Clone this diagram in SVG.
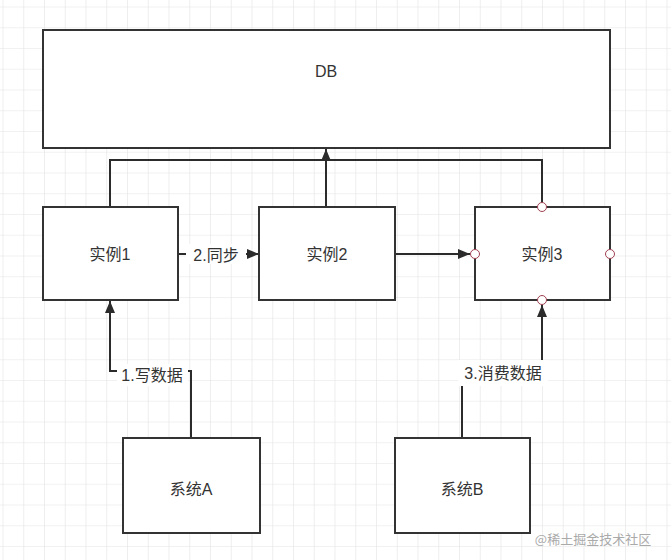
<svg xmlns="http://www.w3.org/2000/svg" width="671" height="560" viewBox="0 0 671 560">
<defs>
<pattern id="grid" x="2.5" y="6.5" width="20.75" height="20.75" patternUnits="userSpaceOnUse">
<path d="M0 0H20.75M0 0V20.75" fill="none" stroke="#e3e3e3" stroke-width="1.2"/>
</pattern>
<marker id="arr" viewBox="0 0 12 10" refX="12" refY="5" markerWidth="12" markerHeight="10" markerUnits="userSpaceOnUse" orient="auto">
<path d="M0 0L12 5L0 10Z" fill="#2b2b2b"/>
</marker>
<style>
.box{fill:#fff;stroke:#333;stroke-width:2}
.lbl{font-family:"Liberation Sans","Noto Sans CJK SC",sans-serif;font-size:16px;fill:#333;text-anchor:middle;dominant-baseline:central}
.edge{fill:none;stroke:#2b2b2b;stroke-width:2}
.port{fill:#fff;stroke:#a04050;stroke-width:1}
.elbl{font-family:"Liberation Sans","Noto Sans CJK SC",sans-serif;font-size:16px;fill:#333;text-anchor:middle;dominant-baseline:central}
</style>
</defs>
<rect width="671" height="560" fill="#fff"/>
<rect width="671" height="560" fill="url(#grid)"/>
<g id="connectors">
<path class="edge" d="M110 207V160H542V207"/>
<path class="edge" d="M326 207V149" marker-end="url(#arr)"/>
<path class="edge" d="M178 254H259" marker-end="url(#arr)"/>
<rect x="186" y="244" width="60" height="20" fill="#fff"/>
<text class="elbl" x="216" y="255">2.同步</text>
<path class="edge" d="M395 254H470" marker-end="url(#arr)"/>
<path class="edge" d="M191 438V371H110V301" marker-end="url(#arr)"/>
<rect x="117" y="364" width="71" height="22" fill="#fff"/>
<text class="elbl" x="152" y="375">1.写数据</text>
<path class="edge" d="M462 438V371H542V305" marker-end="url(#arr)"/>
<rect x="458" y="360" width="90" height="26" fill="#fff"/>
<text class="elbl" x="503" y="373">3.消费数据</text>
</g>
<g id="db"><rect class="box" x="43" y="30" width="567" height="118"/><text class="lbl" x="326" y="71">DB</text></g>
<g id="inst1"><rect class="box" x="43" y="207" width="135" height="93"/><text class="lbl" x="110" y="254">实例1</text></g>
<g id="inst2"><rect class="box" x="259" y="207" width="136" height="93"/><text class="lbl" x="327" y="254">实例2</text></g>
<g id="inst3"><rect class="box" x="475" y="207" width="135" height="93"/><text class="lbl" x="542" y="254">实例3</text>
<circle class="port" cx="542" cy="207" r="4.5"/><circle class="port" cx="475" cy="254" r="4.5"/><circle class="port" cx="610" cy="254" r="4.5"/><circle class="port" cx="542" cy="300" r="4.5"/></g>
<g id="sysA"><rect class="box" x="123" y="438" width="137" height="95"/><text class="lbl" x="191" y="489">系统A</text></g>
<g id="sysB"><rect class="box" x="395" y="438" width="135" height="95"/><text class="lbl" x="462" y="489">系统B</text></g>
<text x="593" y="538" font-family="'Noto Sans CJK SC',sans-serif" font-size="13" fill="#aaa" text-anchor="middle" dominant-baseline="central">@稀土掘金技术社区</text>
</svg>
